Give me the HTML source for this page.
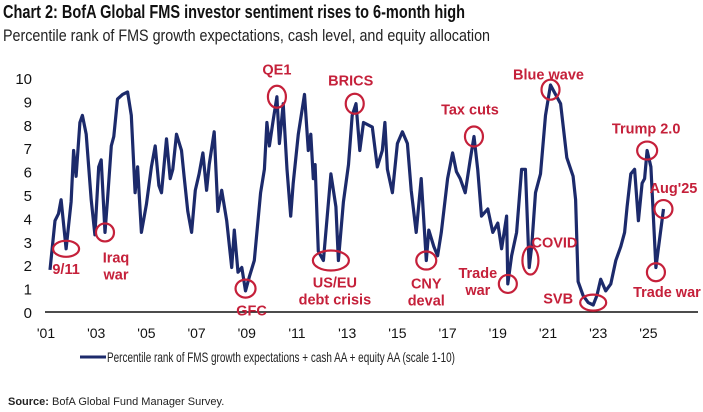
<!DOCTYPE html>
<html><head><meta charset="utf-8"><style>
body{margin:0;background:#fff;width:703px;height:412px;overflow:hidden;font-family:"Liberation Sans",sans-serif}
svg{display:block}
</style></head><body>
<svg id="chart" width="703" height="412" xmlns="http://www.w3.org/2000/svg">
<text x="3" y="18" font-size="18" font-weight="bold" fill="#111" textLength="462" lengthAdjust="spacingAndGlyphs">Chart 2: BofA Global FMS investor sentiment rises to 6-month high</text>
<text x="3" y="41" font-size="17" fill="#222" textLength="487" lengthAdjust="spacingAndGlyphs">Percentile rank of FMS growth expectations, cash level, and equity allocation</text>
<g id="yaxis"></g>
<g id="xaxis"></g>
<path id="series" fill="none" stroke="#1c2a6b" stroke-width="3.2" stroke-linejoin="round"/>
<g id="ann"></g>
<g>
<line x1="80" y1="357" x2="106" y2="357" stroke="#1c2a6b" stroke-width="3"/>
<text x="107" y="362" font-size="14" fill="#222" textLength="348" lengthAdjust="spacingAndGlyphs">Percentile rank of FMS growth expectations + cash AA + equity AA (scale 1-10)</text>
</g>
<text x="8" y="405" font-size="11" fill="#222"><tspan font-weight="bold">Source:</tspan> BofA Global Fund Manager Survey.</text>
</svg>
<script>
const years=[2001.16,2001.36,2001.5,2001.6,2001.8,2002.0,2002.1,2002.2,2002.35,2002.45,2002.6,2002.8,2002.95,2003.1,2003.2,2003.35,2003.45,2003.6,2003.7,2003.85,2004.05,2004.25,2004.4,2004.55,2004.65,2004.8,2005.0,2005.2,2005.35,2005.5,2005.6,2005.8,2005.95,2006.05,2006.2,2006.4,2006.5,2006.65,2006.8,2006.95,2007.1,2007.25,2007.4,2007.5,2007.7,2007.85,2008.0,2008.2,2008.4,2008.5,2008.65,2008.8,2008.95,2009.1,2009.3,2009.55,2009.7,2009.8,2009.9,2010.05,2010.2,2010.3,2010.45,2010.6,2010.75,2010.85,2011.05,2011.3,2011.45,2011.55,2011.65,2011.72,2011.85,2012.05,2012.35,2012.55,2012.65,2012.85,2013.05,2013.2,2013.35,2013.5,2013.65,2014.0,2014.2,2014.4,2014.5,2014.6,2014.8,2015.0,2015.2,2015.4,2015.55,2015.75,2015.95,2016.15,2016.25,2016.45,2016.6,2016.75,2017.0,2017.2,2017.35,2017.5,2017.7,2017.9,2018.05,2018.2,2018.35,2018.6,2018.8,2019.0,2019.15,2019.35,2019.4,2019.55,2019.75,2019.95,2020.1,2020.25,2020.35,2020.5,2020.7,2020.9,2021.1,2021.3,2021.5,2021.75,2022.0,2022.1,2022.2,2022.4,2022.6,2022.8,2022.95,2023.1,2023.3,2023.5,2023.7,2023.9,2024.05,2024.15,2024.3,2024.45,2024.6,2024.75,2024.85,2024.95,2025.1,2025.3,2025.6];
const values=[1.8,3.9,4.2,4.8,2.7,4.7,6.9,5.8,8.1,8.4,7.6,4.8,3.3,6.2,6.5,3.4,4.8,7.1,7.5,9.1,9.3,9.4,8.4,5.1,6.2,3.4,4.6,6.2,7.1,5.4,5.1,7.4,5.7,6.1,7.6,6.9,5.8,4.3,3.4,5.2,5.9,6.8,5.2,6.3,7.7,4.3,5.2,3.9,1.9,3.5,1.7,1.9,0.9,1.5,2.2,5.1,6.1,8.1,7.1,8.2,9.2,7.2,8.9,6.1,4.1,5.5,7.6,9.3,6.9,7.6,5.7,6.3,2.6,2.2,5.9,4.5,2.2,4.7,6.3,8.4,8.9,6.9,8.1,7.9,6.2,6.9,8.1,6.1,5.1,7.2,7.7,7.2,5.2,3.4,5.7,2.2,3.5,2.8,2.4,3.4,5.7,6.8,6.0,5.7,5.1,6.5,7.5,6.1,4.1,4.4,3.4,3.8,2.7,4.1,1.2,2.4,3.4,6.1,6.1,1.9,2.8,5.1,5.9,8.4,9.7,9.3,8.9,6.6,5.8,4.8,1.3,0.7,0.4,0.3,0.7,1.4,0.9,1.2,2.2,2.8,3.4,4.5,5.9,6.1,3.9,5.5,5.7,6.9,6.2,1.9,4.4];
const yTicks=[0,1,2,3,4,5,6,7,8,9,10];
const xTickYears=[2001,2003,2005,2007,2009,2011,2013,2015,2017,2019,2021,2023,2025];
const xTickLabels=["'01","'03","'05","'07","'09","'11","'13","'15","'17","'19","'21","'23","'25"];
const annLabels=["9/11","Iraq|war","GFC","QE1","US/EU|debt crisis","BRICS","CNY|deval","Tax cuts","Trade|war","COVID","Blue wave","SVB","Trump 2.0","Aug'25","Trade war"];
const annYears=[2001.8,2003.35,2008.95,2010.2,2012.35,2013.3,2016.15,2018.05,2019.4,2020.3,2021.1,2022.8,2024.95,2025.6,2025.3];
const annValues=[2.7,3.4,1.0,9.2,2.2,8.9,2.2,7.5,1.2,2.2,9.5,0.4,6.9,4.4,1.7];

const NS="http://www.w3.org/2000/svg";
const x=v=>46+(v-2001)*25.1;
const y=v=>312-v*23.4;
function mk(tag,attrs,parent){const e=document.createElementNS(NS,tag);for(const k in attrs)e.setAttribute(k,attrs[k]);parent.appendChild(e);return e;}
const ya=document.getElementById('yaxis'),xa=document.getElementById('xaxis'),an=document.getElementById('ann');
yTicks.forEach(t=>{const e=mk('text',{x:32,y:y(t)+6,'font-size':15,'text-anchor':'end',fill:'#111'},ya);e.textContent=t;

});
const ax=mk('line',{x1:45,x2:698,y1:y(0),y2:y(0),stroke:'#111','stroke-width':1.5},xa);


xTickYears.forEach((t,i)=>{const e=mk('text',{x:x(t),y:338,'font-size':14,'text-anchor':'middle',fill:'#111'},xa);e.textContent=xTickLabels[i];

});
document.getElementById('series').setAttribute('d',years.map((v,i)=>(i?'L':'M')+x(v).toFixed(1)+' '+y(values[i]).toFixed(1)).join(''));
// label offsets relative to the annotated point (styling, not data)
const off=[[0,20],[11,25],[6,22],[0,-27],[4,22],[-4,-23],[0,23],[-4,-27],[-30,-11],[24,-18],[-2,-15],[-35,-4],[-1,-22],[10,-21],[11,20]];
const rad=[[13,8],[9,9],[10,9],[9,11],[18,10],[9,10],[10,9],[9,10],[9,9],[8,14],[9,10],[13,8],[10,9],[9,9],[9,9]];
annYears.forEach((yr,i)=>{const cx=x(yr),cy=y(annValues[i]);
const c=mk('ellipse',{cx:cx,cy:cy,rx:rad[i][0],ry:rad[i][1],fill:'none',stroke:'#c5203a','stroke-width':2.2},an);


const parts=annLabels[i].split('|');
parts.forEach((p,j)=>{const t=mk('text',{x:cx+off[i][0],y:cy+off[i][1]+j*17+5,'font-size':14.5,'font-weight':'bold','text-anchor':'middle',fill:'#c5203a'},an);t.textContent=p;

});});
</script>
</body></html>
